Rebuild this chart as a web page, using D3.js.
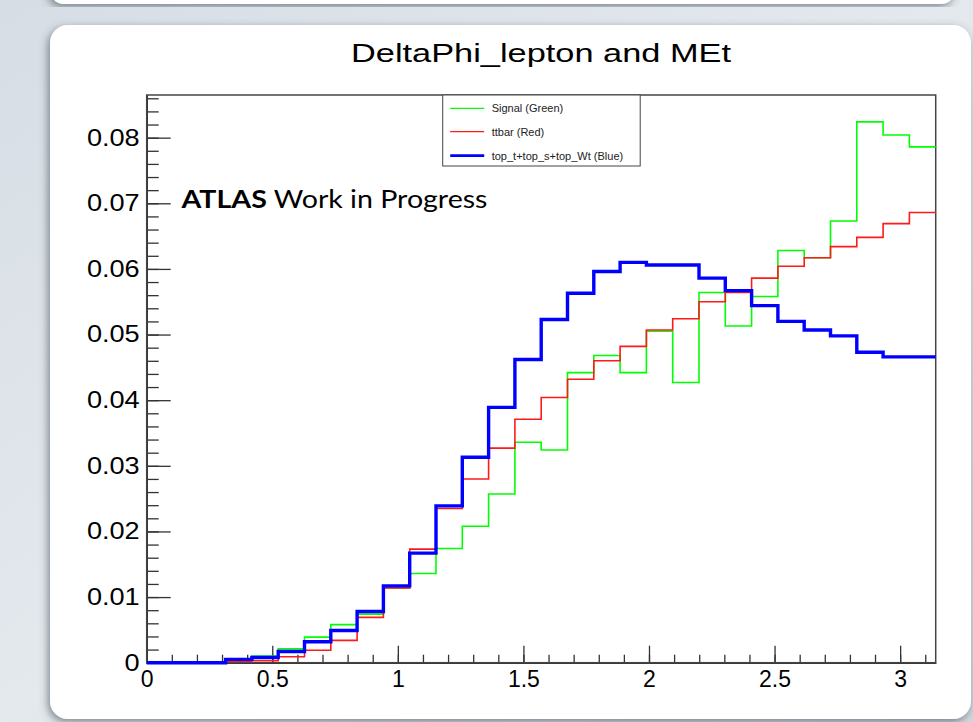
<!DOCTYPE html>
<html>
<head>
<meta charset="utf-8">
<script src="https://cdn.jsdelivr.net/npm/d3@7"></script>
<style>
  body { margin: 0; background: #dde3e9; }
  svg { display: block; }
</style>
</head>
<body>
<div id="chart"></div>
<script>
var svgWidth = 973;
var svgHeight = 722;

// histogram: 30 bins between 0 and pi
var nBins = 30;
var xMin = 0;
var xMax = Math.PI;
var yMax = 0.0865;

var signalValues = [0, 0, 0, 0.0004, 0.0010, 0.0021, 0.0039, 0.0058, 0.0074, 0.0114,
  0.0136, 0.0174, 0.0208, 0.0257, 0.0336, 0.0324, 0.0442, 0.0468, 0.0442, 0.0505,
  0.0427, 0.0564, 0.0513, 0.0558, 0.0628, 0.0617, 0.0673, 0.0824, 0.0804, 0.0786];
var ttbarValues = [0, 0, 0, 0.0002, 0.0003, 0.0009, 0.0019, 0.0034, 0.0069, 0.0114,
  0.0173, 0.0235, 0.0280, 0.0327, 0.0371, 0.0404, 0.0432, 0.0460, 0.0482, 0.0507,
  0.0524, 0.0550, 0.0564, 0.0586, 0.0604, 0.0617, 0.0634, 0.0648, 0.0669, 0.0686];
var topValues = [0, 0, 0, 0.0005, 0.0008, 0.0017, 0.0032, 0.0049, 0.0078, 0.0117,
  0.0167, 0.0239, 0.0313, 0.0389, 0.0462, 0.0523, 0.0563, 0.0596, 0.0610, 0.0606,
  0.0606, 0.0586, 0.0567, 0.0544, 0.0520, 0.0507, 0.0498, 0.0473, 0.0466, 0.0466];

var legendLabels = ["Signal (Green)", "ttbar (Red)", "top_t+top_s+top_Wt (Blue)"];
var yTickValues = [0, 0.01, 0.02, 0.03, 0.04, 0.05, 0.06, 0.07, 0.08];
var yTickLabels = ["0", "0.01", "0.02", "0.03", "0.04", "0.05", "0.06", "0.07", "0.08"];
var xTickValues = [0, 0.5, 1, 1.5, 2, 2.5, 3];
var xTickLabels = ["0", "0.5", "1", "1.5", "2", "2.5", "3"];
var titleText = "DeltaPhi_lepton and MEt";

var margin = { top: 95, right: 37.3, bottom: 59.3, left: 146.7 };
var width = svgWidth - margin.left - margin.right;
var height = svgHeight - margin.top - margin.bottom;

var svg = d3.select("#chart")
  .append("svg")
  .attr("width", svgWidth)
  .attr("height", svgHeight);

// slide background and panels
var defs = svg.append("defs");
var bg = defs.append("linearGradient").attr("id", "bg").attr("x1", 0).attr("x2", 1).attr("y1", 0).attr("y2", 1);
bg.append("stop").attr("offset", 0).attr("stop-color", "#d6dde4");
bg.append("stop").attr("offset", 0.5).attr("stop-color", "#e4e9ee");
bg.append("stop").attr("offset", 1).attr("stop-color", "#cfd7df");
var shadow = defs.append("filter").attr("id", "shadow")
  .attr("x", -0.05).attr("y", -0.05).attr("width", 1.1).attr("height", 1.1);
shadow.append("feDropShadow").attr("dx", -2).attr("dy", 3)
  .attr("stdDeviation", 4).attr("flood-color", "#3a4550").attr("flood-opacity", 0.6);

svg.append("rect").attr("width", svgWidth).attr("height", svgHeight).attr("fill", "url(#bg)");
svg.append("rect")
  .attr("x", 50).attr("y", -40).attr("width", 905).attr("height", 44).attr("rx", 14)
  .attr("fill", "#fff").attr("filter", "url(#shadow)");
svg.append("rect")
  .attr("x", 50).attr("y", 25).attr("width", 921).attr("height", 694).attr("rx", 18)
  .attr("fill", "#fff").attr("filter", "url(#shadow)");

// title
svg.append("text")
  .attr("x", 541)
  .attr("y", 62)
  .attr("text-anchor", "middle")
  .attr("font-family", "Liberation Sans, Arial, sans-serif")
  .attr("font-size", 25)
  .attr("fill", "#000")
  .attr("textLength", 380)
  .attr("lengthAdjust", "spacingAndGlyphs")
  .text(titleText);

var chartGroup = svg.append("g")
  .attr("transform", `translate(${margin.left}, ${margin.top})`);

var xScale = d3.scaleLinear().domain([xMin, xMax]).range([0, width]);
var yScale = d3.scaleLinear().domain([0, yMax]).range([height, 0]);

// axes, ROOT style: ticks pointing inside
var fontFamily = "Liberation Sans, Arial, sans-serif";

var yMinor = d3.range(0, 0.0861, 0.002);
chartGroup.append("g")
  .attr("class", "ytick-minor")
  .call(d3.axisLeft(yScale).tickValues(yMinor).tickSize(-12).tickSizeOuter(0).tickFormat(""));
var yAxisG = chartGroup.append("g")
  .attr("class", "ytick-major")
  .call(d3.axisLeft(yScale).tickValues(yTickValues).tickSize(-24).tickSizeOuter(0)
    .tickPadding(7).tickFormat((d, i) => yTickLabels[i]));

var xMinor = d3.range(0, 3.15, 0.1);
chartGroup.append("g")
  .attr("transform", `translate(0, ${height})`)
  .call(d3.axisBottom(xScale).tickValues(xMinor).tickSize(-8).tickSizeOuter(0).tickFormat(""));
chartGroup.append("g")
  .attr("class", "xtick-major")
  .attr("transform", `translate(0, ${height})`)
  .call(d3.axisBottom(xScale).tickValues(xTickValues).tickSize(-17).tickSizeOuter(0)
    .tickPadding(8).tickFormat((d, i) => xTickLabels[i]));

chartGroup.selectAll(".tick line").attr("stroke", "#333").attr("stroke-width", 1.3);
chartGroup.selectAll(".domain").attr("stroke", "#333").attr("stroke-width", 1.5);
chartGroup.selectAll(".tick text")
  .attr("font-family", fontFamily)
  .attr("font-size", 23)
  .attr("fill", "#000");
// y labels in the picture are a little wider than the font
yAxisG.selectAll(".tick text").each(function () {
  var w = this.getComputedTextLength();
  d3.select(this).attr("textLength", w * 1.18).attr("lengthAdjust", "spacingAndGlyphs");
});

// frame
chartGroup.append("rect")
  .attr("width", width)
  .attr("height", height)
  .attr("fill", "none")
  .attr("stroke", "#444")
  .attr("stroke-width", 1.5);

// histograms as outlined steps
var edges = d3.range(nBins + 1).map(i => xMin + i * (xMax - xMin) / nBins);
function stepPoints(values) {
  var pts = values.map((v, i) => [edges[i], v]);
  pts.push([edges[nBins], values[nBins - 1]]);
  return pts;
}
var histLine = d3.line()
  .x(d => xScale(d[0]))
  .y(d => yScale(d[1]))
  .curve(d3.curveStepAfter);

var series = [
  { values: signalValues, color: "#00ff00", width: 1.6 },
  { values: ttbarValues, color: "#ff1a1a", width: 1.6 },
  { values: topValues, color: "#0000ff", width: 3.4 }
];

chartGroup.selectAll(".hist")
  .data(series)
  .enter()
  .append("path")
  .attr("class", "hist")
  .attr("d", d => histLine(stepPoints(d.values)))
  .attr("fill", "none")
  .attr("stroke", d => d.color)
  .attr("stroke-width", d => d.width);

// legend
var legend = svg.append("g").attr("transform", "translate(442.7, 95)");
legend.append("rect")
  .attr("width", 197.5)
  .attr("height", 71)
  .attr("fill", "#fff")
  .attr("stroke", "#444")
  .attr("stroke-width", 1);
var rows = legend.selectAll(".row")
  .data(series)
  .enter()
  .append("g")
  .attr("transform", (d, i) => `translate(0, ${[13.3, 36.7, 60.7][i]})`);
rows.append("line")
  .attr("x1", 7.5).attr("x2", 41.5)
  .attr("stroke", d => d.color)
  .attr("stroke-width", d => d.width * 0.8);
rows.append("text")
  .attr("x", 49)
  .attr("dy", "0.35em")
  .attr("font-family", fontFamily)
  .attr("font-size", 11)
  .attr("fill", "#222")
  .text((d, i) => legendLabels[i]);

// ATLAS label
var atlas = svg.append("text")
  .attr("x", 181.5)
  .attr("y", 208)
  .attr("font-family", "Lato, Open Sans, sans-serif")
  .attr("font-size", 25)
  .attr("fill", "#000")
  .attr("textLength", 306)
  .attr("lengthAdjust", "spacingAndGlyphs");
atlas.append("tspan").attr("font-weight", "bold").text("ATLAS");
atlas.append("tspan").text(" Work in Progress");
</script>
</body>
</html>
